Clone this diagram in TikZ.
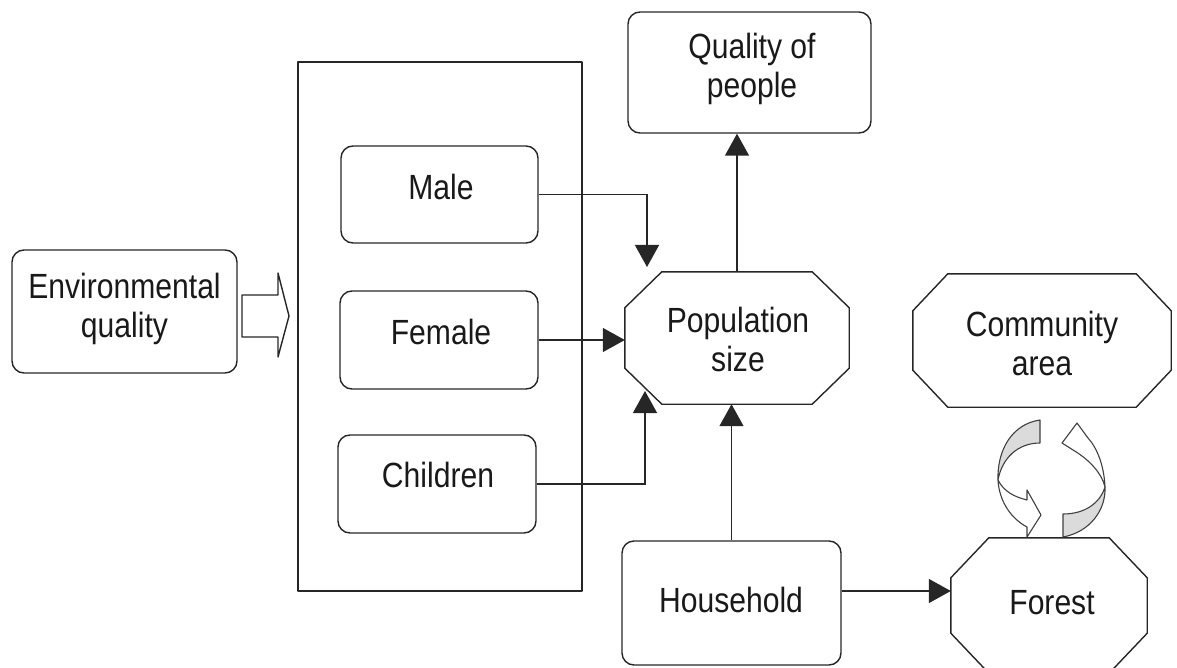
\documentclass[tikz,border=0pt]{standalone}
\usepackage{fontspec}
\newfontfamily\diagfont[FakeStretch=0.86]{Liberation Sans}
\usetikzlibrary{arrows.meta}

% octagon border around a (borderless) rectangular node: name, chamfer x, chamfer y
\newcommand\octoframe[3]{%
  \draw[edgeline]
    ([xshift=#2]#1.north west) -- ([xshift=-#2]#1.north east)
    -- ([yshift=-#3]#1.north east) -- ([yshift=#3]#1.south east)
    -- ([xshift=-#2]#1.south east) -- ([xshift=#2]#1.south west)
    -- ([yshift=#3]#1.south west) -- ([yshift=-#3]#1.north west) -- cycle;}

\begin{document}
\begin{tikzpicture}[x=1pt,y=-1pt,
  edgeline/.style={draw=black!85, line width=1.4pt, line join=round},
  rbox/.style={edgeline, rounded corners=12pt, inner sep=0pt},
  plainbox/.style={edgeline, inner sep=0pt},
  octbase/.style={inner sep=0pt},
  lbl/.style={font=\diagfont\fontsize{35}{39}\selectfont, align=center, inner sep=0pt, text=black!90},
  conn/.style={draw=black!85, line width=1.4pt, -{Triangle[length=22pt,width=24pt]}},
  ribbonback/.style={draw=black!75, line width=1.1pt, fill=gray!28, line join=round},
  ribbonfront/.style={draw=black!75, line width=1.1pt, fill=white, line join=round}
]
\useasboundingbox (0,0) rectangle (1177,668);

% outer group of the population classes
\node[plainbox, minimum width=284pt, minimum height=529pt] (group) at (440,326.5) {};

% rounded boxes
\node[rbox, minimum width=225pt, minimum height=123pt] (env) at (124.5,311.5) {};
\node[lbl] (envT) at (124.5,309) {Environmental\\quality};

\node[rbox, minimum width=197pt, minimum height=97pt] (male) at (439.5,194.5) {};
\node[lbl] (maleT) at (441,187) {Male};

\node[rbox, minimum width=198pt, minimum height=98pt] (female) at (439,340) {};
\node[lbl] (femaleT) at (441,332) {Female};

\node[rbox, minimum width=198pt, minimum height=98pt] (children) at (437,484) {};
\node[lbl] (childrenT) at (438,475) {Children};

\node[rbox, minimum width=243pt, minimum height=121pt] (qual) at (749.5,72.5) {};
\node[lbl] (qualT) at (752,69) {Quality of\\people};

\node[rbox, minimum width=219pt, minimum height=124pt] (household) at (731.5,603) {};
\node[lbl] (householdT) at (731,600) {Household};

% octagons
\node[octbase, minimum width=224pt, minimum height=132pt] (pop) at (737,338) {};
\octoframe{pop}{37pt}{36pt}
\node[lbl] (popT) at (738,339) {Population\\size};

\node[octbase, minimum width=258pt, minimum height=133pt] (comm) at (1042,340.5) {};
\octoframe{comm}{35pt}{37pt}
\node[lbl] (commT) at (1042,343) {Community\\area};

\node[octbase, minimum width=196pt, minimum height=135pt] (forest) at (1049,605.5) {};
\octoframe{forest}{38pt}{40pt}
\node[lbl] (forestT) at (1052,603) {Forest};

% hollow block arrow from environmental quality into the group
\draw[edgeline, fill=white] (242,295) -- (278,295) -- (278,273) -- (289,316)
  -- (278,357) -- (278,337) -- (242,337) -- cycle;

% connectors
\coordinate (maletip) at (647,267);
\draw[conn] (male.east) -| (maletip);
\draw[conn] (female.east) -- (female.east -| pop.west);
\coordinate (childtip) at (645,391);
\draw[conn] (children.east) -| (childtip);
\draw[conn] (household.north) -- (household.north |- pop.south);
\draw[conn] (pop.north) -- (pop.north |- qual.south);
\coordinate (hhout) at ([yshift=12pt]household.east);
\draw[conn] (hhout) -- (hhout -| forest.west);

% twisted ribbon arrows between community area and forest
\draw[ribbonback] (1040,420) .. controls (1012,424) and (997,450) .. (998,480)
  .. controls (1002,458) and (1018,443) .. (1040,443) -- cycle;
\draw[ribbonfront] (998,480) .. controls (1004,492) and (1015,497) .. (1027,500)
  -- (1027,490) -- (1041,515) -- (1027,537) -- (1027,527)
  .. controls (1010,518) and (999,500) .. (998,480) -- cycle;

\draw[ribbonback] (1063,537) .. controls (1090,532) and (1106,510) .. (1105,487)
  .. controls (1100,503) and (1085,514) .. (1063,514) -- cycle;
\draw[ribbonfront] (1105,487) .. controls (1104,465) and (1097,448) .. (1088,438)
  -- (1077,423) -- (1062,443) -- (1073,450)
  .. controls (1090,460) and (1102,474) .. (1105,487) -- cycle;
\end{tikzpicture}
\end{document}
